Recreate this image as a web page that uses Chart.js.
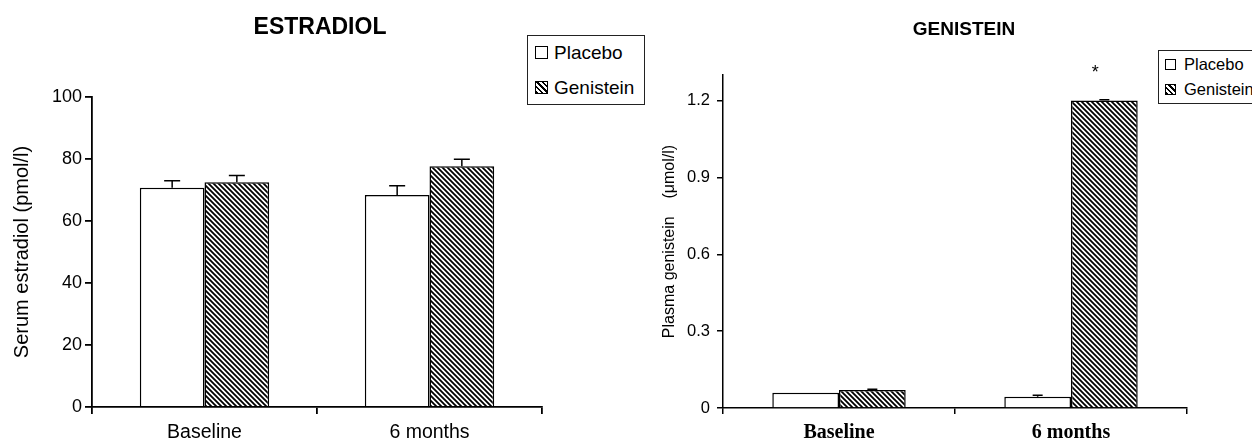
<!DOCTYPE html>
<html>
<head>
<meta charset="utf-8">
<script src="https://cdn.jsdelivr.net/npm/chart.js@4.4.1/dist/chart.umd.min.js"></script>
<style>
html,body{margin:0;padding:0;background:#fff;width:1252px;height:440px;overflow:hidden;}
#wrap{position:relative;width:1252px;height:440px;overflow:hidden;background:#fff;}
canvas{position:absolute;top:0;}
#c1{left:0;}
#c2{left:660px;}
.legend{position:absolute;border:1.5px solid #222;background:#fff;box-sizing:border-box;font-family:"Liberation Sans",Arial,sans-serif;color:#000;}
.legend .row{position:absolute;left:0;white-space:nowrap;display:flex;align-items:center;}
.legend .sw{display:inline-block;box-sizing:border-box;border:1.5px solid #000;background:#fff;}
.legend .sw.h{background:repeating-linear-gradient(45deg,#000 0 1.8px,#fff 1.8px 3.8px);}
</style>
</head>
<body>
<div id="wrap">
  <canvas id="c1" width="660" height="440"></canvas>
  <canvas id="c2" width="592" height="440"></canvas>
  <div id="leg1" class="legend"></div>
  <div id="leg2" class="legend"></div>
</div>
<script>
// ---------- data ----------
const categories = ['Baseline', '6 months'];
const seriesNames = ['Placebo', 'Genistein'];

// Left panel: serum estradiol (pmol/l)
const estradiolTitle = 'ESTRADIOL';
const estradiolAxisTitle = 'Serum estradiol (pmol/l)';
const estradiolPlacebo = [70.7, 68.4];
const estradiolGenistein = [72.5, 77.7];
const estradiolPlaceboErr = [2.3, 3.0];
const estradiolGenisteinErr = [2.2, 2.2];
const estradiolTicks = [0, 20, 40, 60, 80, 100];

// Right panel: plasma genistein (umol/l)
const genisteinTitle = 'GENISTEIN';
const genisteinAxisTitle = 'Plasma genistein\u00a0\u00a0\u00a0\u00a0(\u03bcmol/l)';
const genisteinPlacebo = [0.06, 0.044];
const genisteinGenistein = [0.07, 1.2];
const genisteinPlaceboErr = [0, 0.006];
const genisteinGenisteinErr = [0.003, 0.003];
const genisteinTicks = [0, 0.3, 0.6, 0.9, 1.2];
const genisteinSignificance = ['', '*'];

// ---------- helpers ----------
function makeHatch(size, lw) {
  const c = document.createElement('canvas');
  c.width = c.height = size;
  const x = c.getContext('2d');
  x.fillStyle = '#fff';
  x.fillRect(0, 0, size, size);
  x.strokeStyle = '#000';
  x.lineWidth = lw;
  x.beginPath();
  x.moveTo(-1, -1); x.lineTo(size + 1, size + 1);
  x.moveTo(size - 1, -1); x.lineTo(size + 1, 1);
  x.moveTo(-1, size - 1); x.lineTo(1, size + 1);
  x.stroke();
  return x.createPattern(c, 'repeat');
}

const errorBarPlugin = {
  id: 'errorBars',
  afterDatasetsDraw(chart, args, opts) {
    const ctx = chart.ctx;
    const y = chart.scales.y;
    ctx.save();
    ctx.strokeStyle = '#000';
    ctx.lineWidth = opts.lineWidth || 1.5;
    chart.data.datasets.forEach((ds, di) => {
      const meta = chart.getDatasetMeta(di);
      meta.data.forEach((bar, i) => {
        const e = ds.errors ? ds.errors[i] : 0;
        if (!e) return;
        const top = y.getPixelForValue(ds.data[i] + e);
        ctx.beginPath();
        ctx.moveTo(bar.x, bar.y);
        ctx.lineTo(bar.x, top);
        ctx.moveTo(bar.x - opts.cap / 2, top);
        ctx.lineTo(bar.x + opts.cap / 2, top);
        ctx.stroke();
      });
    });
    ctx.restore();
  }
};

const titleTextPlugin = {
  id: 'titleText',
  afterDraw(chart, args, opts) {
    const ctx = chart.ctx;
    ctx.save();
    ctx.fillStyle = '#000';
    ctx.font = opts.font;
    ctx.textAlign = 'center';
    ctx.textBaseline = 'middle';
    ctx.fillText(opts.text, opts.x, opts.y);
    ctx.restore();
  }
};

const markPlugin = {
  id: 'marks',
  afterDatasetsDraw(chart, args, opts) {
    if (!opts.marks) return;
    const ctx = chart.ctx;
    const y = chart.scales.y;
    const ds = chart.data.datasets[opts.dataset];
    const meta = chart.getDatasetMeta(opts.dataset);
    ctx.save();
    ctx.fillStyle = '#000';
    ctx.font = opts.font;
    ctx.textAlign = 'center';
    ctx.textBaseline = 'middle';
    opts.marks.forEach((m, i) => {
      if (!m) return;
      const bar = meta.data[i];
      ctx.fillText(m, bar.x + opts.dx, y.getPixelForValue(ds.data[i]) - opts.dy);
    });
    ctx.restore();
  }
};

function buildChart(canvasId, cfg) {
  const hatch = makeHatch(5, 1.8);
  return new Chart(document.getElementById(canvasId), {
    type: 'bar',
    data: {
      labels: categories,
      datasets: [
        { label: seriesNames[0], data: cfg.placebo, errors: cfg.placeboErr,
          backgroundColor: '#fff', borderColor: '#000', borderWidth: cfg.barBorder,
          categoryPercentage: 0.575, barPercentage: 1.0 },
        { label: seriesNames[1], data: cfg.genistein, errors: cfg.genisteinErr,
          backgroundColor: hatch, borderColor: '#000', borderWidth: cfg.barBorder,
          categoryPercentage: 0.575, barPercentage: 1.0 }
      ]
    },
    plugins: [errorBarPlugin, titleTextPlugin, markPlugin],
    options: {
      responsive: false,
      animation: false,
      events: [],
      layout: { padding: cfg.padding },
      plugins: {
        legend: { display: false },
        tooltip: { enabled: false },
        errorBars: { cap: cfg.cap, lineWidth: 1.5 },
        titleText: cfg.title,
        marks: cfg.marks || {}
      },
      scales: {
        x: {
          type: 'category',
          grid: { display: true, offset: true, drawOnChartArea: false, drawTicks: true,
                  tickLength: cfg.tickLen, color: '#000', lineWidth: cfg.axisWidth },
          border: { display: true, color: '#000', width: cfg.axisWidth },
          ticks: { color: '#000', font: cfg.xFont, padding: cfg.xPad, maxRotation: 0, autoSkip: false },
          afterFit(s) { s.height = cfg.xHeight; }
        },
        y: {
          min: 0, max: cfg.max,
          afterBuildTicks(s) { s.ticks = cfg.ticks.map(v => ({ value: v })); },
          grid: { display: true, drawOnChartArea: false, drawTicks: true,
                  tickLength: cfg.tickLen, color: '#000', lineWidth: cfg.axisWidth },
          border: { display: true, color: '#000', width: cfg.axisWidth },
          ticks: { color: '#000', font: cfg.yFont, padding: cfg.yPad,
                   callback: v => cfg.fmt(v) },
          title: { display: true, text: cfg.axisTitle, color: '#000', font: cfg.yTitleFont,
                   padding: cfg.yTitlePad },
          afterFit(s) { s.width = cfg.yWidth; }
        }
      }
    }
  });
}

// Left panel
buildChart('c1', {
  placebo: estradiolPlacebo, genistein: estradiolGenistein,
  placeboErr: estradiolPlaceboErr, genisteinErr: estradiolGenisteinErr,
  max: 100, ticks: estradiolTicks, fmt: v => String(v),
  padding: { left: 6, right: 118, top: 97, bottom: 0 },
  yWidth: 86, xHeight: 33, tickLen: 7, axisWidth: 1.8, barBorder: 1.5, cap: 16,
  xFont: { family: '"Liberation Sans", Arial, sans-serif', size: 19.5 }, xPad: 7,
  yFont: { family: '"Liberation Sans", Arial, sans-serif', size: 18 }, yPad: 3,
  axisTitle: estradiolAxisTitle,
  yTitleFont: { family: '"Liberation Sans", Arial, sans-serif', size: 20 },
  yTitlePad: { top: 4, bottom: 0 },
  title: { text: estradiolTitle, x: 320, y: 28, font: 'bold 23px "Liberation Sans", Arial, sans-serif' }
});

// Right panel
buildChart('c2', {
  placebo: genisteinPlacebo, genistein: genisteinGenistein,
  placeboErr: genisteinPlaceboErr, genisteinErr: genisteinGenisteinErr,
  max: 1.3, ticks: genisteinTicks, fmt: v => (v === 0 ? '0' : v.toFixed(1)),
  padding: { left: 0, right: 65, top: 75, bottom: 0 },
  yWidth: 63, xHeight: 32, tickLen: 6, axisWidth: 1.5, barBorder: 1.5, cap: 10,
  xFont: { family: '"Liberation Serif", "Times New Roman", serif', size: 20, weight: 'bold' }, xPad: 7,
  yFont: { family: '"Liberation Sans", Arial, sans-serif', size: 16.5 }, yPad: 7,
  axisTitle: genisteinAxisTitle,
  yTitleFont: { family: '"Liberation Sans", Arial, sans-serif', size: 16 },
  yTitlePad: { top: 0, bottom: 0 },
  title: { text: genisteinTitle, x: 304, y: 30, font: 'bold 19px "Liberation Sans", Arial, sans-serif' },
  marks: { marks: genisteinSignificance, dataset: 1, dx: -9, dy: 28,
           font: '18px "Liberation Sans", Arial, sans-serif' }
});

// HTML legends built from the series names
function buildLegend(id, box, rows, swatch, textX, fontSize) {
  const el = document.getElementById(id);
  Object.assign(el.style, { left: box.x + 'px', top: box.y + 'px', width: box.w + 'px', height: box.h + 'px',
                            fontSize: fontSize + 'px' });
  seriesNames.forEach((name, i) => {
    const r = document.createElement('div');
    r.className = 'row';
    r.style.top = (rows[i] - fontSize * 0.6) + 'px';
    r.style.height = (fontSize * 1.2) + 'px';
    r.style.left = swatch.x + 'px';
    const sw = document.createElement('span');
    sw.className = 'sw' + (i === 1 ? ' h' : '');
    sw.style.width = swatch.s + 'px';
    sw.style.height = swatch.s + 'px';
    sw.style.marginRight = (textX - swatch.x - swatch.s) + 'px';
    const t = document.createElement('span');
    t.textContent = name;
    r.appendChild(sw);
    r.appendChild(t);
    el.appendChild(r);
  });
}
buildLegend('leg1', { x: 527, y: 35, w: 118, h: 70 }, [17, 52], { x: 7, s: 13 }, 26, 19);
buildLegend('leg2', { x: 1158, y: 50, w: 120, h: 54 }, [14, 39], { x: 6, s: 11 }, 25, 16.5);
</script>
</body>
</html>
